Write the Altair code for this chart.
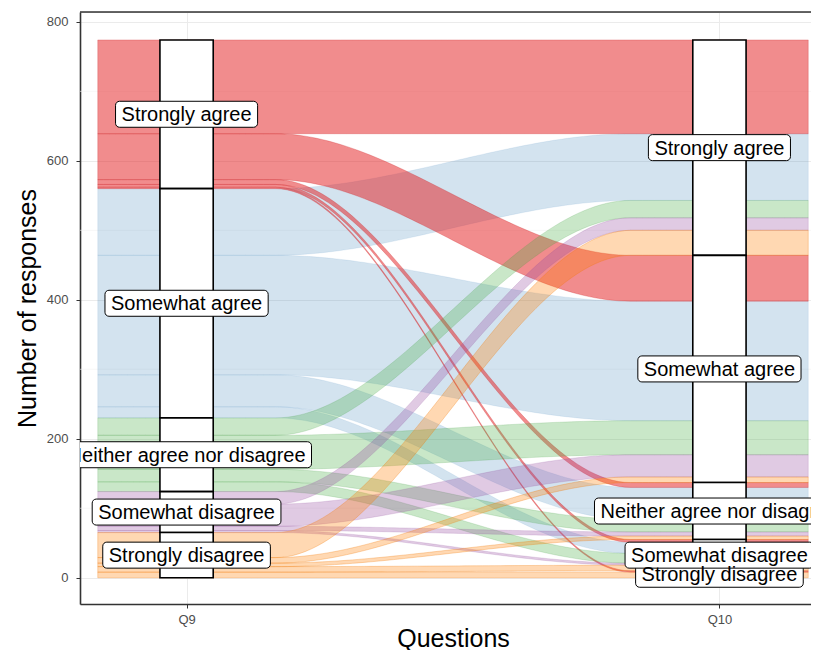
import altair as alt
import pandas as pd

# ---------------- data ----------------
levels = ["Strongly agree", "Somewhat agree", "Neither agree nor disagree",
          "Somewhat disagree", "Strongly disagree"]
questions = ["Q9", "Q10"]
# rows: answer to Q9; entries: how many of them gave each Q10 answer (order = levels)
from_strongly_agree = [135, 66, 7, 4, 2]
from_somewhat_agree = [96, 172, 46, 16, 0]
from_neither = [25, 49, 18, 14, 0]
from_somewhat_disagree = [18, 32, 6, 3, 0]
from_strongly_disagree = [36, 8, 5, 8, 8]
y_ticks = [0, 200, 400, 600, 800]
y_minor = [100, 300, 500, 700]

# ---------------- styles ----------------
fills = ["rgba(228,26,28,0.5)", "rgba(55,126,184,0.22)", "rgba(77,175,74,0.3)",
         "rgba(152,78,163,0.3)", "rgba(255,127,0,0.3)"]
strokes = ["rgba(200,20,25,0.35)", "rgba(55,126,184,0.15)", "rgba(60,150,60,0.25)",
           "rgba(140,70,150,0.25)", "rgba(240,120,0,0.4)"]
draw_rank = [1, 0, 2, 3, 4]          # blue flows drawn first
FONT = "Liberation Sans"
W, H = 731, 592
X_DOM = [0.8, 0.8 + W / 532.86]
Y_DOM = [-37.8, 814.2]
PX_X = W / (X_DOM[1] - X_DOM[0])
PX_Y = H / (Y_DOM[1] - Y_DOM[0])
STRAT_HALF = 0.05
ALLUV_HALF = 1 / 6
LABEL_FS = 20
LABEL_PAD = 6
LABEL_H = 26
BORDER = "#333333"

matrix = [from_strongly_agree, from_somewhat_agree, from_neither,
          from_somewhat_disagree, from_strongly_disagree]
n = len(levels)
q9_tot = [sum(r) for r in matrix]
q10_tot = [sum(matrix[i][j] for i in range(n)) for j in range(n)]


def tops(tot):
    acc = sum(tot)
    out = []
    for v in tot:
        out.append(acc)
        acc -= v
    return out


q9_top, q10_top = tops(q9_tot), tops(q10_tot)

# flows (stacked lodes)
cur9, cur10 = list(q9_top), list(q10_top)
rows = []
for i in range(n):
    for j in range(n):
        v = matrix[i][j]
        a_hi, b_hi = cur9[i], cur10[j]
        cur9[i] -= v
        cur10[j] -= v
        if v > 0:
            rows.append(dict(id=f"{i}-{j}", cat=levels[i], n=v, rank=draw_rank[i],
                             a_lo=a_hi - v, a_hi=a_hi, b_lo=b_hi - v, b_hi=b_hi))
flow_df = pd.DataFrame(rows).sort_values(["rank", "id"]).reset_index(drop=True)
flow_df["ord"] = range(len(flow_df))

# strata
strata_rows = []
for q, (tp, tot) in enumerate([(q9_top, q9_tot), (q10_top, q10_tot)]):
    for k in range(n):
        strata_rows.append(dict(pos=q + 1, lo=tp[k] - tot[k], hi=tp[k], label=levels[k]))
strata_df = pd.DataFrame(strata_rows)

# label boxes (width from Arial/Liberation Sans advance widths)
adv = {' ': 278, 'a': 556, 'b': 556, 'c': 500, 'd': 556, 'e': 556, 'f': 278, 'g': 556,
       'h': 556, 'i': 222, 'l': 222, 'm': 833, 'n': 556, 'o': 556, 'r': 333, 's': 500,
       't': 278, 'w': 722, 'y': 500, 'N': 722, 'S': 667}


def text_px(s):
    return sum(adv.get(c, 556) for c in s) / 1000 * LABEL_FS


lab = strata_df.copy()
lab["mid"] = (lab["lo"] + lab["hi"]) / 2
lab["hw"] = lab["label"].map(lambda s: (text_px(s) / 2 + LABEL_PAD) / PX_X)
lab["hh"] = LABEL_H / 2 / PX_Y
lab = lab.sort_values("mid")

xscale = alt.Scale(domain=X_DOM, nice=False, zero=False)
yscale = alt.Scale(domain=Y_DOM, nice=False, zero=False)
label_expr = "[" + ",".join(f"'{q}'" for q in questions) + "][datum.value - 1]"

x_axis = alt.Axis(values=[1, 2], labelExpr=label_expr, title="Questions",
                  titleFont=FONT, titleFontSize=25, titleFontWeight="normal",
                  titleColor="black", titleBaseline="alphabetic", titleX=746 / 2, titleY=42,
                  labelFont=FONT, labelFontSize=13, labelColor="#4D4D4D",
                  labelPadding=5, tickSize=4, tickColor=BORDER,
                  domain=True, domainColor=BORDER, domainWidth=1.6,
                  grid=True, gridColor="#EBEBEB", gridWidth=1)
y_axis = alt.Axis(values=y_ticks, title="Number of responses",
                  titleFont=FONT, titleFontSize=25, titleFontWeight="normal",
                  titleColor="black", titleBaseline="alphabetic", titleX=-45, titleY=H / 2,
                  labelFont=FONT, labelFontSize=13, labelColor="#4D4D4D",
                  labelPadding=8, tickSize=4, tickColor=BORDER,
                  domain=True, domainColor=BORDER, domainWidth=1.6,
                  grid=True, gridColor="#EBEBEB", gridWidth=1)

minor = alt.Chart(pd.DataFrame({"v": y_minor})).mark_rule(
    color="#F2F2F2", strokeWidth=0.6).encode(y=alt.Y("v:Q", scale=yscale, axis=y_axis))

NS = 120
x0, x1 = 1 - ALLUV_HALF, 2 + ALLUV_HALF
flows = alt.Chart(flow_df).transform_calculate(
    t=f"sequence(0, {NS + 1})"
).transform_flatten(["t"]).transform_calculate(
    x=f"{x0} + datum.t * {(x1 - x0) / NS}"
).transform_calculate(
    s=f"clamp((datum.x - {1 + ALLUV_HALF}) / {1 - 2 * ALLUV_HALF}, 0, 1)"
).transform_calculate(
    k="datum.s * datum.s * (3 - 2 * datum.s)"
).transform_calculate(
    lo="datum.a_lo + (datum.b_lo - datum.a_lo) * datum.k",
    hi="datum.a_hi + (datum.b_hi - datum.a_hi) * datum.k"
).mark_area(strokeWidth=0.7, clip=True).encode(
    x=alt.X("x:Q", scale=xscale, axis=x_axis),
    y=alt.Y("lo:Q", scale=yscale, axis=y_axis),
    y2="hi:Q",
    detail="ord:O",
    color=alt.Color("cat:N", scale=alt.Scale(domain=levels, range=fills), legend=None),
    stroke=alt.Stroke("cat:N", scale=alt.Scale(domain=levels, range=strokes), legend=None),
    order="ord:O",
)

strata = alt.Chart(strata_df).transform_calculate(
    xa=f"datum.pos - {STRAT_HALF}", xb=f"datum.pos + {STRAT_HALF}"
).mark_rect(fill="white", stroke="black", strokeWidth=1.6).encode(
    x=alt.X("xa:Q", scale=xscale), x2="xb:Q",
    y=alt.Y("lo:Q", scale=yscale), y2="hi:Q")

boxes = alt.Chart(lab).transform_calculate(
    xa="datum.pos - datum.hw", xb="datum.pos + datum.hw",
    ya="datum.mid - datum.hh", yb="datum.mid + datum.hh"
).mark_rect(fill="white", stroke="black", strokeWidth=1, cornerRadius=4, clip=True).encode(
    x=alt.X("xa:Q", scale=xscale), x2="xb:Q",
    y=alt.Y("ya:Q", scale=yscale), y2="yb:Q")

texts = alt.Chart(lab).mark_text(font=FONT, fontSize=LABEL_FS, color="black",
                                 baseline="middle", align="center", dy=1, clip=True).encode(
    x=alt.X("pos:Q", scale=xscale), y=alt.Y("mid:Q", scale=yscale), text="label:N")

# top edge of the panel frame
top_edge = alt.Chart(pd.DataFrame({"v": [0]})).mark_rule(
    color=BORDER, strokeWidth=1.6).encode(
    x=alt.value(0), x2=alt.value(W), y=alt.value(0))

chart = alt.layer(minor, flows, strata, boxes, texts, top_edge).properties(
    width=W, height=H,
    autosize=alt.AutoSizeParams(type="none"),
    padding={"left": 72, "top": 4, "right": 0, "bottom": 46},
).configure_view(stroke=None).configure(background="white")

chart.save("out.html", embed_options={"renderer": "svg", "actions": False})
